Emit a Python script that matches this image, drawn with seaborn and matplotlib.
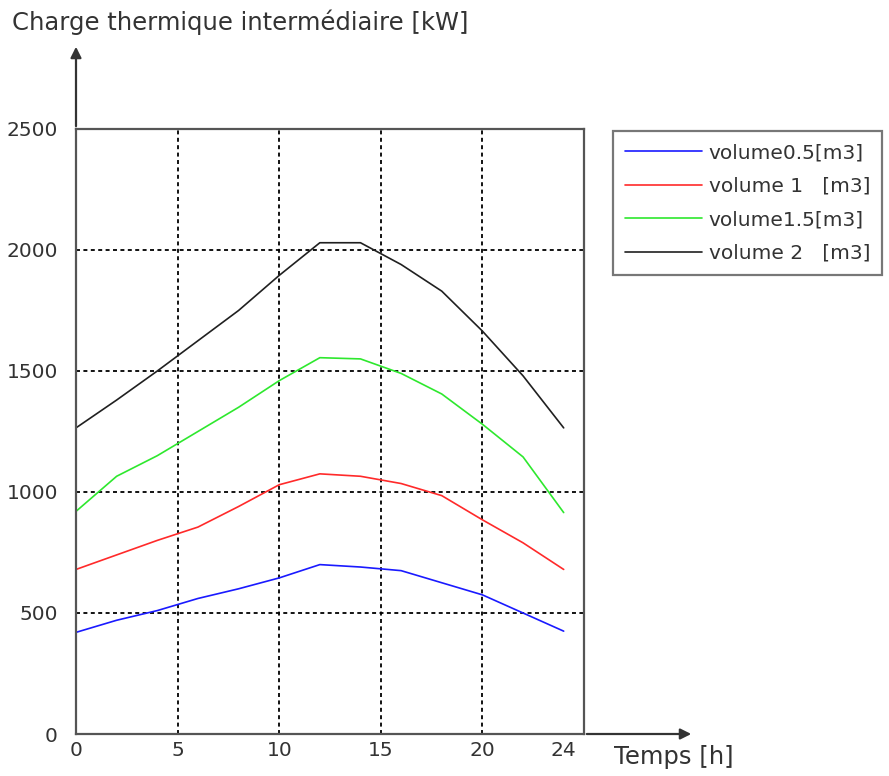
import matplotlib
matplotlib.use("Agg")
import matplotlib.pyplot as plt
import matplotlib.ticker as mticker
import seaborn as sns
import pandas as pd

hours = [0, 2, 4, 6, 8, 10, 12, 14, 16, 18, 20, 22, 24]
vol_05 = [420, 470, 510, 560, 600, 645, 700, 690, 675, 625, 575, 500, 425]
vol_1 = [680, 740, 800, 855, 940, 1030, 1075, 1065, 1035, 985, 885, 790, 680]
vol_15 = [920, 1065, 1150, 1250, 1350, 1460, 1555, 1550, 1490, 1405, 1280, 1145, 915]
vol_2 = [1265, 1380, 1500, 1625, 1750, 1895, 2030, 2030, 1940, 1830, 1665, 1480, 1265]
labels = ["volume0.5[m3]", "volume 1   [m3]", "volume1.5[m3]", "volume 2   [m3]"]
colors = ["#1a1aff", "#ff2a2a", "#2ee82e", "#202020"]
yticks = [0, 500, 1000, 1500, 2000, 2500]
xticks = [0, 5, 10, 15, 20]
xtick_extra = [24]

rows = []
for lab, vals in zip(labels, [vol_05, vol_1, vol_15, vol_2]):
    for h, v in zip(hours, vals):
        rows.append({"h": h, "v": v, "serie": lab})
df = pd.DataFrame(rows)

sns.set_theme(style="white")
plt.rcParams['font.family'] = ['DejaVu Sans']

W, H = 889, 776
fig = plt.figure(figsize=(W / 100, H / 100), dpi=100)
ax = fig.add_axes([76 / W, 1 - 734 / H, (584 - 76) / W, (734 - 129) / H])

sns.lineplot(data=df, x="h", y="v", hue="serie", palette=colors, ax=ax,
             linewidth=1.2, legend=True)

ax.set_xlim(0, 25)
ax.set_ylim(0, 2500)
ax.xaxis.set_major_locator(mticker.FixedLocator(xticks))
ax.xaxis.set_minor_locator(mticker.FixedLocator(xtick_extra))
ax.xaxis.set_minor_formatter(mticker.FixedFormatter([str(t) for t in xtick_extra]))
ax.set_yticks(yticks)
ax.tick_params(axis='both', which='both', length=0, labelsize=14.5, colors='#333333')
ax.tick_params(axis='x', which='both', pad=5)
ax.tick_params(axis='y', pad=13)
ax.set_xlabel("")
ax.set_ylabel("")
ax.grid(True, which='major', color='black', linestyle=(0, (2.2, 1.9)), linewidth=1.3)
for s in ax.spines.values():
    s.set_color('#555555')
    s.set_linewidth(1.6)

leg = ax.legend(loc='upper left', bbox_to_anchor=(613 / W, 1 - 131 / H),
                bbox_transform=fig.transFigure, frameon=True, fontsize=14.5,
                handlelength=3.8, handletextpad=0.35, borderpad=0.6,
                labelspacing=0.72, fancybox=False, borderaxespad=0)
leg.get_frame().set_edgecolor('#555555')
leg.get_frame().set_linewidth(1.6)
for t in leg.get_texts():
    t.set_color('#333333')

# axis arrows
fig.add_artist(matplotlib.patches.FancyArrowPatch(
    (76 / W, 1 - 129 / H), (76 / W, 1 - 44 / H), transform=fig.transFigure,
    arrowstyle='-|>', mutation_scale=16, color='#333333', linewidth=1.6))
fig.add_artist(matplotlib.patches.FancyArrowPatch(
    (584 / W, 1 - 734 / H), (694 / W, 1 - 734 / H), transform=fig.transFigure,
    arrowstyle='-|>', mutation_scale=16, color='#333333', linewidth=1.6))

fig.text(12 / W, 1 - 22 / H, "Charge thermique intermédiaire [kW]",
         ha='left', va='center', fontsize=17.5, color='#333333')
fig.text(614 / W, 1 - 757 / H, "Temps [h]", ha='left', va='center',
         fontsize=17.5, color='#333333')

fig.savefig("out.png", dpi=100)
